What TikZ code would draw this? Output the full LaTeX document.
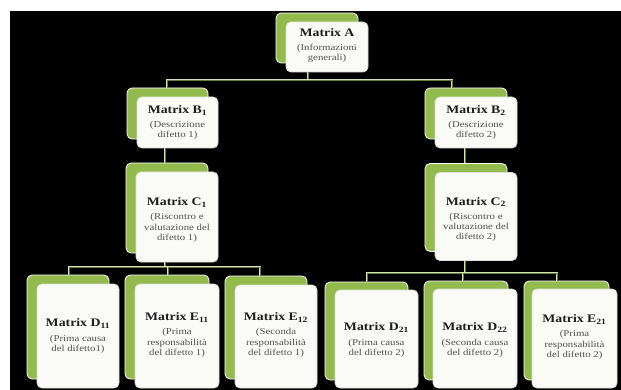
\documentclass[tikz,border=0pt]{standalone}
\usepackage{fontspec}
\setmainfont{Liberation Serif}
\definecolor{cardgreen}{RGB}{146,186,76}
\definecolor{cardwhite}{RGB}{250,250,247}
\definecolor{cardedge}{RGB}{222,224,215}
\definecolor{conncol}{RGB}{210,226,180}
\definecolor{subgray}{RGB}{80,80,80}
\definecolor{ttlcol}{RGB}{30,30,30}
\definecolor{conninner}{RGB}{100,125,55}
\tikzset{
  backcard/.style={fill=cardgreen, draw=white, line width=0.8pt, rounded corners=5pt, inner sep=0pt},
  frontcard/.style={fill=cardwhite, draw=cardedge, line width=0.8pt, rounded corners=5pt, inner sep=0pt},
  cardtext/.style={align=center, inner sep=0pt, xscale=1.2, transform shape, text=subgray, font=\fontsize{9}{10.3}\selectfont},
  conn/.style={draw=conncol, line width=0.7pt, double=conninner, double distance=0.7pt},
}
\newcommand\cardttl[1]{\textcolor{ttlcol}{\fontsize{11.5}{13}\selectfont\bfseries #1}}
\begin{document}
\begin{tikzpicture}[x=1pt,y=-1pt]
\useasboundingbox (0,0) rectangle (621,390);
\fill[white] (0,0) rectangle (621,390);
\fill[black] (10,11) rectangle (621,390);

\coordinate (jA) at (308,80);
\coordinate (jL) at (167,80);
\coordinate (jR) at (452,80);
\coordinate (k1) at (165,267);
\coordinate (k2) at (465,273);
\coordinate (d11) at (69,267);
\coordinate (e11) at (168,267);
\coordinate (e12) at (260,267);
\coordinate (d21) at (367,273);
\coordinate (d22) at (463,273);
\coordinate (e21) at (557,273);

\node[backcard, minimum width=82pt, minimum height=50pt] (Ab) at (317,38) {};
\node[frontcard, minimum width=82pt, minimum height=50pt] (A) at (327,47) {};
\node[cardtext] (At) at (327,45.5) {\cardttl{Matrix A}\\[4pt](Informazioni\\generali)};

\node[backcard, minimum width=81pt, minimum height=51pt] (Boneb) at (167.5,113.5) {};
\node[frontcard, minimum width=81pt, minimum height=51pt] (Bone) at (177.5,122.5) {};
\node[cardtext] (Bonet) at (Bone.center) {\cardttl{Matrix B\textsubscript{1}}\\[4pt](Descrizione\\difetto 1)};

\node[backcard, minimum width=82pt, minimum height=51pt] (Btwob) at (466,113.5) {};
\node[frontcard, minimum width=82pt, minimum height=51pt] (Btwo) at (476,122.5) {};
\node[cardtext] (Btwot) at (Btwo.center) {\cardttl{Matrix B\textsubscript{2}}\\[4pt](Descrizione\\difetto 2)};

\node[backcard, minimum width=82pt, minimum height=90pt] (Coneb) at (167,208) {};
\node[frontcard, minimum width=82pt, minimum height=90pt] (Cone) at (177,217) {};
\node[cardtext] (Conet) at (177,220) {\cardttl{Matrix C\textsubscript{1}}\\[4pt](Riscontro e\\valutazione del\\difetto 1)};

\node[backcard, minimum width=82pt, minimum height=88pt] (Ctwob) at (466,207.5) {};
\node[frontcard, minimum width=82pt, minimum height=88pt] (Ctwo) at (476,216.5) {};
\node[cardtext] (Ctwot) at (476,219.5) {\cardttl{Matrix C\textsubscript{2}}\\[4pt](Riscontro e\\valutazione del\\difetto 2)};

\node[backcard, minimum width=82pt, minimum height=104pt] (Doneb) at (68,327) {};
\node[frontcard, minimum width=82pt, minimum height=104pt] (Done) at (78,336) {};
\node[cardtext] (Donet) at (78,336) {\cardttl{Matrix D\textsubscript{11}}\\[4pt](Prima causa\\del difetto1)};

\node[backcard, minimum width=84pt, minimum height=104pt] (Eoneb) at (167,327) {};
\node[frontcard, minimum width=84pt, minimum height=104pt] (Eone) at (177,336) {};
\node[cardtext] (Eonet) at (177,335) {\cardttl{Matrix E\textsubscript{11}}\\[4pt](Prima\\responsabilità\\del difetto 1)};

\node[backcard, minimum width=82pt, minimum height=103pt] (Etwob) at (266,327.5) {};
\node[frontcard, minimum width=82pt, minimum height=103pt] (Etwo) at (276,336.5) {};
\node[cardtext] (Etwot) at (276,335) {\cardttl{Matrix E\textsubscript{12}}\\[4pt](Seconda\\responsabilità\\del difetto 1)};

\node[backcard, minimum width=83pt, minimum height=98pt] (Dtwooneb) at (366.5,331) {};
\node[frontcard, minimum width=83pt, minimum height=98pt] (Dtwoone) at (376.5,339) {};
\node[cardtext] (Dtwoonet) at (376.5,340) {\cardttl{Matrix D\textsubscript{21}}\\[4pt](Prima causa\\del difetto 2)};

\node[backcard, minimum width=84pt, minimum height=99pt] (Dtwotwob) at (466,330.5) {};
\node[frontcard, minimum width=84pt, minimum height=99pt] (Dtwotwo) at (475,338.5) {};
\node[cardtext] (Dtwotwot) at (475,340) {\cardttl{Matrix D\textsubscript{22}}\\[4pt](Seconda causa\\del difetto 2)};

\node[backcard, minimum width=85pt, minimum height=99pt] (Etwooneb) at (566.5,330.5) {};
\node[frontcard, minimum width=85pt, minimum height=99pt] (Etwoone) at (574.5,338.5) {};
\node[cardtext] (Etwoonet) at (574.5,337) {\cardttl{Matrix E\textsubscript{21}}\\[4pt](Prima\\responsabilità\\del difetto 2)};

\draw[conn] (A.south -| jA) -- (jA);
\draw[conn] (jL |- Boneb.north) -- (jL) -- (jR) -- (jR |- Btwob.north);
\draw[conn] (Bone.south -| k1) -- (Coneb.north -| k1);
\draw[conn] (Btwo.south -| k2) -- (Ctwob.north -| k2);
\draw[conn] (Cone.south -| k1) -- (k1);
\draw[conn] (d11 |- Doneb.north) -- (d11) -- (e12) -- (e12 |- Etwob.north);
\draw[conn] (e11) -- (e11 |- Eoneb.north);
\draw[conn] (Ctwo.south -| k2) -- (k2);
\draw[conn] (d21 |- Dtwooneb.north) -- (d21) -- (e21) -- (e21 |- Etwooneb.north);
\draw[conn] (d22) -- (d22 |- Dtwotwob.north);
\end{tikzpicture}
\end{document}
